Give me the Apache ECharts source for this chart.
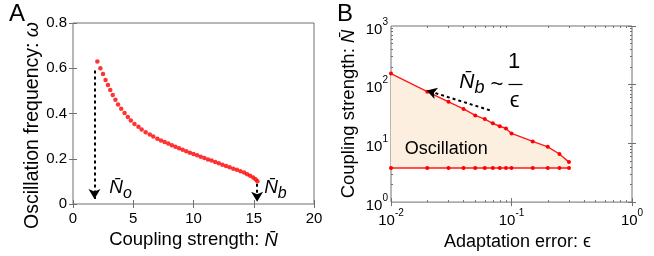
<!DOCTYPE html>
<html><head><meta charset="utf-8">
<script src="https://cdn.jsdelivr.net/npm/echarts@6/dist/echarts.min.js"></script>
<style>html,body{margin:0;padding:0;background:#fff}#c{width:654px;height:256px}</style>
</head><body><div id="c"></div>
<script>
// ---------- Panel A data ----------
const couplingN = [2.02,2.27,2.49,2.70,2.90,3.09,3.30,3.52,3.74,4.00,4.28,4.55,4.80,5.10,5.43,5.70,6.03,6.37,6.66,7.00,7.30,7.60,7.90,8.20,8.50,8.80,9.10,9.40,9.70,10.00,10.30,10.60,10.90,11.20,11.50,11.80,12.10,12.40,12.70,13.00,13.30,13.60,13.90,14.20,14.45,14.70,14.95,15.15,15.30];
const omega = [0.630,0.600,0.575,0.548,0.526,0.504,0.482,0.461,0.440,0.421,0.402,0.385,0.369,0.354,0.341,0.329,0.317,0.307,0.298,0.288,0.281,0.274,0.267,0.260,0.253,0.246,0.240,0.233,0.227,0.221,0.215,0.209,0.203,0.197,0.192,0.186,0.180,0.174,0.168,0.162,0.156,0.151,0.145,0.139,0.132,0.125,0.117,0.109,0.101];
const aXTicks = [0, 5, 10, 15, 20];
const aYTicks = [0, 0.2, 0.4, 0.6, 0.8];
// annotation anchors (data units)
const arrowNo = [[1.78, 0.59], [1.78, 0.022]];
const arrowNb = [[15.28, 0.09], [15.28, 0.010]];
const labelNo = [3.95, 0.062];
const labelNb = [16.8, 0.062];

// ---------- Panel B data ----------
const epsilon = [0.01,0.02,0.03,0.04,0.05,0.06,0.07,0.08,0.09,0.10,0.15,0.20,0.25,0.30];
const upperN = [155,76,51,38.6,30,26,22,19.6,18,14.8,10.8,8.75,6.6,4.8];
const lowerN = [3.8,3.8,3.8,3.8,3.8,3.8,3.8,3.8,3.8,3.8,3.8,3.8,3.8,3.8];
const bXTickExp = [-2, -1, 0];
const bYTickExp = [0, 1, 2, 3];
const arrowB = [[0.066, 36.7], [0.0198, 80]];
const labelNbB = [0.0562, 101];
const labelOne = [0.105, 240];
const fracBar = [[0.0944, 101], [0.1233, 101]];
const labelEps = [0.106, 53];
const labelOsc = [0.0287, 8.0];

const FONT = 'Liberation Sans, Arial, Helvetica, sans-serif';
const AX = '#707070';

function minorLog(lo, hi) {
  const out = [];
  for (let n = lo; n < hi; n++) for (let k = 2; k <= 9; k++) out.push(n + Math.log10(k));
  return out;
}
const bXMinor = minorLog(-2, 0);
const bYMinor = minorLog(0, 3);

const supRich = {
  b: {fontSize: 15, color: '#000', fontFamily: FONT, lineHeight: 22, verticalAlign: 'bottom'},
  s: {fontSize: 10, color: '#000', fontFamily: FONT, lineHeight: 22, verticalAlign: 'top', padding: [2, 0, 0, 0]}
};

function baseAxis(extra) {
  return Object.assign({
    axisLine: {show: false},
    splitLine: {show: false},
    axisTick: {show: true, inside: true, length: 4, lineStyle: {color: AX, width: 1}},
    axisLabel: {show: false}
  }, extra);
}

const chart = echarts.init(document.getElementById('c'), null, {renderer: 'canvas'});

const pointsA = couplingN.map((n, i) => [n, omega[i]]);
const upperB = epsilon.map((e, i) => [e, upperN[i]]);
const lowerB = epsilon.map((e, i) => [e, lowerN[i]]);

const option = {
  animation: false,
  backgroundColor: '#fff',
  textStyle: {fontFamily: FONT},
  graphic: [
    {type: 'text', left: 9, top: 2, style: {text: 'A', fontSize: 24, fontFamily: FONT, fill: '#000'}},
    {type: 'text', left: 337, top: 2, style: {text: 'B', fontSize: 24, fontFamily: FONT, fill: '#000'}}
  ],
  grid: [
    {left: 73, top: 23, width: 241, height: 181, show: true, borderColor: AX, borderWidth: 1, backgroundColor: 'transparent'},
    {left: 391, top: 26, width: 241, height: 178, show: true, borderColor: AX, borderWidth: 1, backgroundColor: 'transparent'}
  ],
  xAxis: [
    baseAxis({gridIndex: 0, type: 'value', min: aXTicks[0], max: aXTicks[aXTicks.length - 1], interval: 5, position: 'bottom',
      axisLabel: {show: true, color: '#000', fontSize: 15, margin: 7},
      name: 'Coupling strength: {n|N\u0304}', nameLocation: 'middle', nameGap: 22,
      nameTextStyle: {fontSize: 18.5, color: '#000', rich: {n: {fontSize: 18.5, fontStyle: 'italic', color: '#000'}}}}),
    baseAxis({gridIndex: 0, type: 'value', min: 0, max: 20, interval: 5, position: 'top'}),
    baseAxis({gridIndex: 1, type: 'log', logBase: 10, min: 0.01, max: 1, position: 'bottom',
      axisLabel: {show: true, margin: 4, formatter: v => '{b|10}{s|' + Math.round(Math.log10(v)) + '}', rich: supRich},
      name: 'Adaptation error: {e|\u03F5}', nameLocation: 'middle', nameGap: 23,
      nameTextStyle: {fontSize: 18, color: '#000', padding: [0, 0, 0, 12], rich: {e: {fontSize: 18, color: '#000'}}}}),
    baseAxis({gridIndex: 1, type: 'log', logBase: 10, min: 0.01, max: 1, position: 'top'}),
    baseAxis({gridIndex: 1, type: 'value', min: -2, max: 0, position: 'bottom',
      axisTick: {show: true, inside: true, length: 2, customValues: bXMinor, lineStyle: {color: AX}}}),
    baseAxis({gridIndex: 1, type: 'value', min: -2, max: 0, position: 'top',
      axisTick: {show: true, inside: true, length: 2, customValues: bXMinor, lineStyle: {color: AX}}})
  ],
  yAxis: [
    baseAxis({gridIndex: 0, type: 'value', min: aYTicks[0], max: aYTicks[aYTicks.length - 1], interval: 0.2, position: 'left',
      axisLabel: {show: true, color: '#000', fontSize: 15, margin: 6},
      name: 'Oscillation frequency: {w|\u03C9}', nameLocation: 'middle', nameGap: 27,
      nameTextStyle: {fontSize: 19.5, color: '#000', padding: [0, 24, 0, 0], rich: {w: {fontSize: 19.5, fontStyle: 'italic', color: '#000'}}}}),
    baseAxis({gridIndex: 0, type: 'value', min: 0, max: 0.8, interval: 0.2, position: 'right'}),
    baseAxis({gridIndex: 1, type: 'log', logBase: 10, min: 1, max: 1000, position: 'left',
      axisLabel: {show: true, margin: 3, formatter: v => '{b|10}{s|' + Math.round(Math.log10(v)) + '}', rich: supRich},
      name: 'Coupling strength: {n|N\u0304}', nameLocation: 'middle', nameGap: 33,
      nameTextStyle: {fontSize: 18.5, color: '#000', rich: {n: {fontSize: 18.5, fontStyle: 'italic', color: '#000'}}}}),
    baseAxis({gridIndex: 1, type: 'log', logBase: 10, min: 1, max: 1000, position: 'right'}),
    baseAxis({gridIndex: 1, type: 'value', min: 0, max: 3, position: 'left',
      axisTick: {show: true, inside: true, length: 2, customValues: bYMinor, lineStyle: {color: AX}}}),
    baseAxis({gridIndex: 1, type: 'value', min: 0, max: 3, position: 'right',
      axisTick: {show: true, inside: true, length: 2, customValues: bYMinor, lineStyle: {color: AX}}})
  ],
  series: [
    {
      type: 'scatter', xAxisIndex: 0, yAxisIndex: 0, data: pointsA,
      symbol: 'circle', symbolSize: 4.5, itemStyle: {color: '#ff0000'}, z: 3,
      markLine: {
        silent: true, symbol: ['none', 'arrow'], symbolSize: [9, 10], precision: 4,
        lineStyle: {type: [3, 3], color: '#000', width: 2}, label: {show: false},
        data: [
          [{coord: arrowNo[0]}, {coord: arrowNo[1]}],
          [{coord: arrowNb[0]}, {coord: arrowNb[1]}]
        ]
      },
      markPoint: {
        silent: true, symbol: 'circle', symbolSize: 0,
        label: {show: true, position: 'inside', color: '#000',
          formatter: p => p.name === 'o' ? '{n|N\u0304}{s|o}' : '{n|N\u0304}{s|b}',
          rich: {
            n: {fontSize: 19, fontStyle: 'italic', color: '#000', fontFamily: FONT, lineHeight: 24, verticalAlign: 'top'},
            s: {fontSize: 16, fontStyle: 'italic', color: '#000', fontFamily: FONT, lineHeight: 24, verticalAlign: 'bottom'}
          }},
        data: [{name: 'o', coord: labelNo}, {name: 'b', coord: labelNb}]
      }
    },
    {
      type: 'custom', xAxisIndex: 2, yAxisIndex: 2, data: [0], z: 1, silent: true,
      renderItem: (params, api) => {
        const pts = [];
        for (let i = 0; i < epsilon.length; i++) pts.push(api.coord([epsilon[i], upperN[i]]));
        for (let i = epsilon.length - 1; i >= 0; i--) pts.push(api.coord([epsilon[i], lowerN[i]]));
        return {type: 'polygon', shape: {points: pts}, style: {fill: '#fcefdf', stroke: null}};
      }
    },
    {
      type: 'line', xAxisIndex: 2, yAxisIndex: 2, data: upperB, z: 3,
      symbol: 'circle', symbolSize: 4, showSymbol: true,
      lineStyle: {color: '#ff1a1a', width: 1.4}, itemStyle: {color: '#ff0000'},
      markLine: {
        silent: true, symbol: ['none', 'arrow'], symbolSize: [9, 10],
        lineStyle: {type: [3, 3], color: '#000', width: 2}, label: {show: false},
        data: [[{coord: arrowB[0]}, {coord: arrowB[1]}]]
      },
      markPoint: {
        silent: true, symbol: 'circle', symbolSize: 0,
        label: {show: true, position: 'inside', color: '#000',
          formatter: p => p.name,
          fontSize: 22, fontFamily: FONT,
          rich: {
            n: {fontSize: 21, fontStyle: 'italic', color: '#000', fontFamily: FONT, lineHeight: 26, verticalAlign: 'top'},
            s: {fontSize: 18, fontStyle: 'italic', color: '#000', fontFamily: FONT, lineHeight: 26, verticalAlign: 'bottom'},
            t: {fontSize: 22, color: '#000', fontFamily: FONT, lineHeight: 26, verticalAlign: 'middle'}
          }},
        data: [
          {name: '{n|N\u0304}{s|b} {t|~}', coord: labelNbB},
          {name: '1', coord: labelOne},
          {name: '\u03F5', coord: labelEps},
          {name: 'Oscillation', coord: labelOsc, label: {fontSize: 18}}
        ]
      }
    },
    {
      type: 'line', xAxisIndex: 2, yAxisIndex: 2, data: lowerB, z: 3,
      symbol: 'circle', symbolSize: 4, showSymbol: true,
      lineStyle: {color: '#ff1a1a', width: 1.4}, itemStyle: {color: '#ff0000'},
      markLine: {
        silent: true, symbol: ['none', 'none'],
        lineStyle: {type: 'solid', color: '#000', width: 1.2}, label: {show: false},
        data: [[{coord: fracBar[0]}, {coord: fracBar[1]}]]
      }
    }
  ]
};
chart.setOption(option);
</script>
</body></html>
